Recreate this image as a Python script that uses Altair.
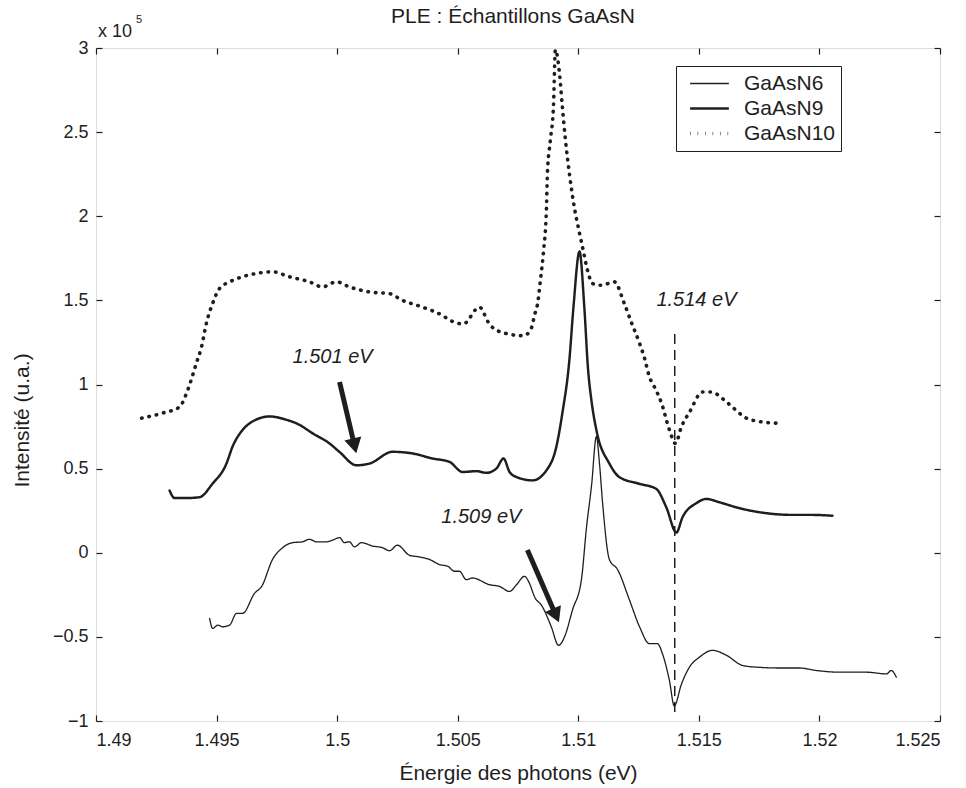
import altair as alt
import pandas as pd

FONT = "Liberation Sans"
INK = "#1e1e1e"

series_names = ["GaAsN6", "GaAsN9", "GaAsN10"]

# Intensities in units of 1e5 (a.u.)
E6 = [1.49471, 1.49484, 1.49505, 1.49525, 1.49554, 1.49583, 1.49608, 1.49658, 1.49687, 1.49732,
      1.49774, 1.49815, 1.49856, 1.49885, 1.49914, 1.49956, 1.49981, 1.50010, 1.50030, 1.50051,
      1.50072, 1.50101, 1.50147, 1.50188, 1.50217, 1.50250, 1.50300, 1.50341, 1.50383, 1.50424,
      1.50458, 1.50487, 1.50507, 1.50536, 1.50561, 1.50632, 1.50673, 1.50715, 1.50744, 1.50777,
      1.50797, 1.50818, 1.50851, 1.50888, 1.50918, 1.50943, 1.50976, 1.51013, 1.51034, 1.51055,
      1.51075, 1.51088, 1.51100, 1.51129, 1.51163, 1.51212, 1.51254, 1.51295, 1.51328, 1.51349,
      1.51378, 1.51398, 1.51428, 1.51461, 1.51503, 1.51557, 1.51615, 1.51681, 1.51740, 1.51834,
      1.51917, 1.51988, 1.52083, 1.52195, 1.52278, 1.52298, 1.52319]
I6 = [-0.39, -0.45, -0.43, -0.44, -0.43, -0.36, -0.36, -0.24, -0.20, -0.04,
      0.03, 0.06, 0.065, 0.08, 0.065, 0.065, 0.075, 0.09, 0.06, 0.065,
      0.035, 0.06, 0.04, 0.03, 0.012, 0.045, -0.015, -0.025, -0.04, -0.07,
      -0.08, -0.11, -0.11, -0.16, -0.15, -0.19, -0.20, -0.23, -0.19, -0.14,
      -0.18, -0.26, -0.32, -0.44, -0.55, -0.50, -0.34, -0.16, 0.15, 0.40,
      0.69, 0.53, 0.31, -0.04, -0.10, -0.28, -0.44, -0.54, -0.54, -0.60,
      -0.76, -0.91, -0.78, -0.68, -0.62, -0.58, -0.61, -0.67, -0.68, -0.685,
      -0.685, -0.70, -0.71, -0.71, -0.72, -0.70, -0.74]

E9 = [1.49305, 1.49326, 1.49375, 1.49429, 1.49483, 1.49541, 1.49566, 1.49608, 1.49649, 1.49720,
      1.49790, 1.49844, 1.49898, 1.49968, 1.50009, 1.50080, 1.50134, 1.50230, 1.50313, 1.50396,
      1.50466, 1.50520, 1.50578, 1.50619, 1.50660, 1.50690, 1.50715, 1.50744, 1.50810, 1.50868,
      1.50909, 1.50934, 1.50963, 1.50980, 1.51005, 1.51025, 1.51040, 1.51055, 1.51075, 1.51129,
      1.51170, 1.51253, 1.51323, 1.51365, 1.51407, 1.51432, 1.51490, 1.51531, 1.51585, 1.51668,
      1.51780, 1.51888, 1.51971, 1.52054]
I9 = [0.37, 0.325, 0.325, 0.33, 0.41, 0.53, 0.63, 0.73, 0.78, 0.81,
      0.79, 0.76, 0.71, 0.65, 0.60, 0.52, 0.53, 0.60, 0.59, 0.56,
      0.54, 0.48, 0.485, 0.475, 0.50, 0.56, 0.48, 0.45, 0.43, 0.49,
      0.63, 0.83, 1.145, 1.46, 1.79, 1.46, 1.10, 0.90, 0.73, 0.53,
      0.45, 0.41, 0.38, 0.27, 0.12, 0.21, 0.295, 0.32, 0.30, 0.265,
      0.235, 0.225, 0.225, 0.22]

E10 = [1.49189, 1.49276, 1.49346, 1.49380, 1.49417, 1.49437, 1.49458, 1.49483, 1.49512, 1.49554,
       1.49607, 1.49665, 1.49732, 1.49802, 1.49885, 1.49939, 1.49997, 1.50051, 1.50134, 1.50217,
       1.50271, 1.50354, 1.50437, 1.50470, 1.50523, 1.50590, 1.50627, 1.50648, 1.50710, 1.50772,
       1.50801, 1.50822, 1.50830, 1.50843, 1.50855, 1.50868, 1.50872, 1.50884, 1.50897, 1.50905,
       1.50922, 1.50934, 1.50947, 1.50963, 1.50984, 1.51005, 1.51017, 1.51038, 1.51059, 1.51096,
       1.51150, 1.51191, 1.51220, 1.51254, 1.51274, 1.51295, 1.51316, 1.51345, 1.51378, 1.51403,
       1.51428, 1.51461, 1.51515, 1.51552, 1.51606, 1.51639, 1.51697, 1.51751, 1.51826]
I10 = [0.80, 0.83, 0.866, 0.966, 1.13, 1.22, 1.365, 1.48, 1.57, 1.61,
       1.64, 1.66, 1.67, 1.64, 1.61, 1.58, 1.61, 1.58, 1.55, 1.54,
       1.50, 1.46, 1.41, 1.38, 1.36, 1.46, 1.37, 1.335, 1.30, 1.29,
       1.32, 1.43, 1.47, 1.62, 1.78, 2.05, 2.255, 2.45, 2.65, 2.99,
       2.85, 2.65, 2.45, 2.255, 2.05, 1.90, 1.82, 1.68, 1.60, 1.59,
       1.61, 1.48, 1.37, 1.245, 1.16, 1.045, 0.985, 0.89, 0.73, 0.65,
       0.75, 0.835, 0.955, 0.955, 0.907, 0.866, 0.80, 0.78, 0.77]

x_ticks = [1.49, 1.495, 1.5, 1.505, 1.51, 1.515, 1.52, 1.525]
y_ticks = [-1, -0.5, 0, 0.5, 1, 1.5, 2, 2.5, 3]

# annotations
ann_labels = ["1.501 eV", "1.509 eV", "1.514 eV"]
ann_E = [1.49981, 1.50598, 1.51490]
ann_I = [1.163, 0.21, 1.50]

arrow_E0 = [1.50010, 1.50789]
arrow_I0 = [1.015, 0.016]
arrow_E1 = [1.50084, 1.50930]
arrow_I1 = [0.563, -0.447]
arrow_angle = [346.7, 336.4]

marker_E = 1.514
marker_I = [1.30, -0.95]

rows = []
for name, E, I in [("GaAsN10", E10, I10), ("GaAsN9", E9, I9), ("GaAsN6", E6, I6)]:
    for k, (e, v) in enumerate(zip(E, I)):
        rows.append({"series": name, "E": e, "I": v, "k": k})
df = pd.DataFrame(rows)

x_scale = alt.Scale(domain=[1.49, 1.525], nice=False, zero=False)
y_scale = alt.Scale(domain=[-1, 3], nice=False, zero=False)

axis_common = dict(offset=-6, tickSize=6, tickColor=INK, tickWidth=1.2, domain=False, grid=False,
                   labelFont=FONT, labelFontSize=18, labelColor=INK,
                   titleFont=FONT, titleFontSize=21, titleColor=INK, titleFontWeight="normal")

legend_kw = dict(title=None, orient="none", legendX=580, legendY=18,
                 strokeColor=INK, fillColor="white", padding=5, symbolOffset=7,
                 labelFont=FONT, labelFontSize=21, labelColor=INK, labelOffset=13,
                 symbolType="stroke", symbolSize=1500, symbolStrokeColor=INK,
                 rowPadding=0, clipHeight=25)

lines = alt.Chart(df).mark_line(clip=True, color=INK, strokeCap="round", strokeJoin="round",
                                interpolate="monotone").encode(
    x=alt.X("E:Q", scale=x_scale,
            axis=alt.Axis(values=x_ticks, format=".4~f", title="Énergie des photons (eV)",
                          orient="bottom", labelPadding=10, titlePadding=13, **axis_common)),
    y=alt.Y("I:Q", scale=y_scale,
            axis=alt.Axis(values=y_ticks, format="~g", title="Intensité (u.a.)",
                          orient="left", labelPadding=8, titlePadding=20, titleY=372,
                          **axis_common)),
    strokeDash=alt.StrokeDash("series:N",
                              scale=alt.Scale(domain=series_names, range=[[1, 0], [1, 0], [0.5, 7]]),
                              legend=alt.Legend(**legend_kw)),
    strokeWidth=alt.StrokeWidth("series:N",
                                scale=alt.Scale(domain=series_names, range=[1.3, 3.6, 2.8]),
                                legend=alt.Legend(**legend_kw)),
    detail="series:N",
    order="k:Q",
)

marker_df = pd.DataFrame({"E": [marker_E], "I0": [marker_I[0]], "I1": [marker_I[1]]})
marker = alt.Chart(marker_df).mark_rule(color=INK, strokeWidth=1.5, strokeDash=[10, 6]).encode(
    x=alt.X("E:Q", scale=x_scale,
            axis=alt.Axis(values=x_ticks, orient="top", labels=False, title=None, **axis_common)),
    y=alt.Y("I0:Q", scale=y_scale,
            axis=alt.Axis(values=y_ticks, orient="right", labels=False, title=None, **axis_common)),
    y2="I1:Q",
)

ann_df = pd.DataFrame({"E": ann_E, "I": ann_I, "label": ann_labels})
ann = alt.Chart(ann_df).mark_text(font=FONT, fontSize=20, fontStyle="italic", color=INK).encode(
    x=alt.X("E:Q", scale=x_scale, axis=None),
    y=alt.Y("I:Q", scale=y_scale, axis=None),
    text="label:N",
)

arrow_df = pd.DataFrame({"E0": arrow_E0, "I0": arrow_I0, "E1": arrow_E1, "I1": arrow_I1,
                         "ang": arrow_angle})
arrow_df["Eh"] = arrow_df["E0"] + 0.84 * (arrow_df["E1"] - arrow_df["E0"])
arrow_df["Ih"] = arrow_df["I0"] + 0.84 * (arrow_df["I1"] - arrow_df["I0"])
arrow_df["Es"] = arrow_df["E0"] + 0.78 * (arrow_df["E1"] - arrow_df["E0"])
arrow_df["Is"] = arrow_df["I0"] + 0.78 * (arrow_df["I1"] - arrow_df["I0"])

shafts = alt.Chart(arrow_df).mark_rule(color=INK, strokeWidth=5).encode(
    x=alt.X("E0:Q", scale=x_scale, axis=None),
    y=alt.Y("I0:Q", scale=y_scale, axis=None),
    x2="Es:Q", y2="Is:Q",
)
heads = alt.Chart(arrow_df).mark_point(shape="triangle-down", filled=True, color=INK, opacity=1,
                                       size=300).encode(
    x=alt.X("Eh:Q", scale=x_scale, axis=None),
    y=alt.Y("Ih:Q", scale=y_scale, axis=None),
    angle=alt.Angle("ang:Q", scale=None),
)

exp_df = pd.DataFrame({"E": [1.49], "I": [3.0]})
exp_base = alt.Chart(exp_df).mark_text(font=FONT, fontSize=18, color=INK, align="left", dx=2, dy=-16).encode(
    x=alt.X("E:Q", scale=x_scale, axis=None),
    y=alt.Y("I:Q", scale=y_scale, axis=None),
    text=alt.value("x 10"),
)
exp_sup = alt.Chart(exp_df).mark_text(font=FONT, fontSize=11, color=INK, align="left", dx=40, dy=-28).encode(
    x=alt.X("E:Q", scale=x_scale, axis=None),
    y=alt.Y("I:Q", scale=y_scale, axis=None),
    text=alt.value("5"),
)

chart = alt.layer(lines, marker, ann, shafts, heads, exp_base, exp_sup).resolve_axis(
    x="independent", y="independent"
).properties(
    width=844, height=673,
    padding={"left": 96, "top": 48, "right": 26, "bottom": 67},
    autosize=alt.AutoSizeParams(type="none"),
    title=alt.TitleParams("PLE : Échantillons GaAsN", font=FONT, fontSize=21, fontWeight="normal",
                          color=INK, offset=-13, dx=-5),
).configure_view(stroke=INK, strokeWidth=1.5).configure(background="white")

chart.save("out.html", embed_options={"renderer": "svg", "actions": False})
